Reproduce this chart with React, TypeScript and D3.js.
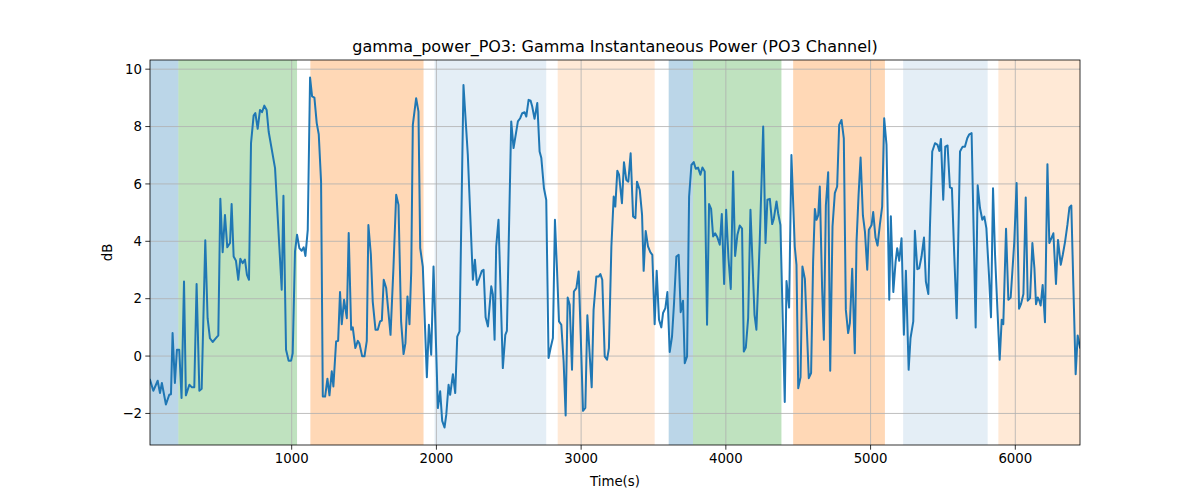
import React from "react";
import * as d3 from "d3";

// gamma power trace (time in s, power in dB)
const times = [
	21, 44, 74, 90, 103, 131, 154, 166, 177, 193, 207, 223, 239, 256, 269, 293, 311, 327, 343, 362, 378, 403, 419, 435, 454, 472, 493, 507, 523, 539, 555, 574, 585, 599, 615, 631, 645, 661, 677, 691, 705, 719, 737, 749, 765, 781, 795, 811, 827,
	841, 885, 931, 943, 961, 979, 996, 1007, 1023, 1037, 1053, 1069, 1083, 1095, 1111, 1127, 1141, 1157, 1173, 1187, 1203, 1215, 1231, 1247, 1261, 1277, 1288, 1307, 1321, 1334, 1346, 1362, 1381, 1394, 1411, 1422, 1440, 1457, 1468, 1487, 1503, 1519, 1530, 1547, 1560, 1579, 1595, 1611, 1623, 1636, 1653,
	1683, 1703, 1722, 1738, 1756, 1773, 1786, 1800, 1814, 1826, 1837, 1860, 1876, 1888, 1906, 1934, 1948, 1964, 1980, 1998, 2010, 2026, 2040, 2056, 2068, 2084, 2095, 2114, 2130, 2144, 2160, 2187, 2217, 2252, 2266, 2280, 2298, 2314, 2326, 2340, 2356, 2379, 2390, 2402, 2413, 2429, 2459,
	2476, 2487, 2517, 2533, 2563, 2579, 2593, 2609, 2621, 2637, 2651, 2662, 2678, 2697, 2713, 2725, 2743, 2759, 2775, 2789, 2805, 2819, 2833, 2847, 2863, 2879, 2893, 2907, 2921, 2937, 2950, 2967, 2983, 2997, 3013, 3029, 3043, 3059, 3073, 3086, 3105, 3121, 3133, 3146, 3163, 3179, 3192, 3209, 3225, 3236, 3250, 3262, 3282, 3296, 3312, 3326,
	3342, 3359, 3375, 3386, 3405, 3421, 3432, 3446, 3462, 3478, 3492, 3508, 3522, 3538, 3554, 3566, 3582, 3596, 3612, 3628, 3642, 3658, 3674, 3688, 3704, 3716, 3732, 3746, 3762, 3778, 3792, 3808, 3824, 3838, 3854, 3870, 3884, 3898, 3912, 3926, 3942, 3958, 3972, 3988, 4002, 4018, 4034, 4050, 4064, 4080, 4096, 4112,
	4124, 4138, 4154, 4170, 4198, 4211, 4234, 4258, 4274, 4287, 4304, 4320, 4331, 4350, 4361, 4377, 4407, 4419, 4437, 4453, 4476, 4488, 4500, 4516, 4529, 4546, 4573, 4589, 4603, 4615, 4626, 4638, 4649, 4665, 4677, 4691, 4707, 4721, 4737, 4753, 4769, 4783, 4799, 4815, 4829, 4845, 4857, 4873, 4891, 4903, 4917, 4931, 4947, 4961, 4977,
	4988, 5007, 5018, 5034, 5048, 5064, 5080, 5094, 5110, 5129, 5140, 5157, 5173, 5184, 5198, 5214, 5230, 5244, 5263, 5276, 5295, 5306, 5323, 5336, 5352, 5369, 5382, 5399, 5410, 5426, 5445, 5463, 5475, 5486, 5502, 5516, 5532, 5548, 5562, 5578, 5595, 5618, 5636, 5652, 5668, 5682, 5698,
	5726, 5740, 5756, 5772, 5786, 5800, 5818, 5832, 5846, 5860, 5876, 5892, 5906, 5917, 5936, 5952, 5968, 5993, 6009, 6026, 6039, 6056, 6072, 6086, 6102, 6118, 6132, 6143, 6155, 6166, 6175, 6189, 6205, 6222, 6235, 6251, 6263, 6281, 6295, 6314, 6328, 6344, 6360, 6374, 6387, 6401, 6417, 6431, 6447,
];

const power = [
	-0.83, -1.21, -0.86, -1.29, -0.94, -1.69, -1.35, -1.33, 0.8, -0.94, 0.22, 0.22, -1.46, 2.6, -1.37, -1.0, -1.09, -1.09, 2.51, -1.21, -1.14, 4.04, 1.32, 0.62, 0.49, 0.6, 0.72, 5.48, 3.62, 4.92, 3.79, 3.94, 5.3, 3.47, 3.32, 2.66, 3.39, 3.24, 3.36, 2.83, 2.66, 7.42, 8.38, 8.47, 7.92, 8.58, 8.5, 8.73, 8.58,
	7.82, 6.55, 2.31, 5.59, 0.22, -0.16, -0.16, 0.1, 3.65, 4.23, 3.76, 3.67, 3.79, 3.49, 4.4, 9.71, 9.05, 9.01, 8.12, 7.73, 6.08, -1.41, -1.41, -0.79, -1.37, -0.53, -1.06, 0.51, 0.53, 2.23, 1.11, 1.96, 1.32, 4.29, 0.92, 1.0, 0.28, 0.53, 0.44, -0.01, -0.01, 0.53, 4.57, 3.55, 1.9, 0.92, 0.92, 1.21, 1.24, 2.66, 2.37,
	0.74, 3.06, 5.62, 5.27, 1.21, 0.07, 0.45, 2.08, 1.11, 2.95, 8.06, 8.99, 8.52, 3.76, 3.12, -0.74, 1.09, 0.05, 3.12, 0.28, -1.81, -1.23, -2.26, -2.49, -2.05, -1.0, -1.35, -0.63, -1.29, 0.68, 0.86, 9.45, 7.01, 2.66, 3.36, 2.48, 2.74, 2.97, 3.01, 1.35, 1.03, 2.43, 2.16, 0.57, 3.82, 4.75, -0.42,
	0.74, 0.88, 8.18, 7.25, 8.18, 8.29, 8.47, 8.5, 8.35, 8.93, 8.9, 8.7, 8.27, 8.82, 7.13, 6.9, 5.85, 5.44, -0.07, 0.28, 0.63, 4.75, 3.06, 1.21, 1.09, -0.19, -2.07, 2.04, 1.79, -0.48, 2.25, 2.37, 2.95, 0.74, -1.91, -1.81, 1.42, 0.05, -1.09, 1.61, 2.77, 2.77, 2.86, 2.66, -0.01, -0.13, 0.28, 3.82, 5.56, 5.21, 6.46, 6.32, 5.33, 6.76, 6.14, 6.08,
	7.07, 4.87, 4.81, 6.08, 5.79, 4.92, 2.97, 4.36, 3.82, 3.62, 3.53, 1.11, 2.97, 1.27, 1.0, 1.5, 1.67, 2.23, 0.14, 0.68, 1.85, 3.47, 3.53, 1.53, 1.93, -0.25, -0.01, 5.56, 6.66, 6.76, 6.53, 6.57, 6.32, 6.57, 6.43, 1.09, 5.3, 5.13, 4.17, 4.28, 4.13, 3.88, 4.95, 2.51, 5.1, 3.41, 2.34, 6.43, 3.49, 4.23, 4.55, 4.44,
	0.16, 0.3, 1.32, 5.1, 1.44, 0.92, 3.99, 8.0, 3.94, 5.45, 5.48, 4.6, 4.78, 5.39, 4.98, 4.57, -1.6, 2.62, 1.69, 7.01, 3.82, 3.18, -1.12, -0.74, 3.12, 2.69, -0.77, -0.59, 3.3, 5.13, 4.75, 4.9, 5.91, 2.39, 0.57, 5.25, 6.41, -0.51, 4.52, 5.68, 5.91, 8.06, 8.23, 7.59, 1.61, 0.8, 1.15, 3.04, 0.1, 3.99, 5.62, 6.92, 4.9, 4.34, 3.01,
	4.4, 4.57, 5.02, 4.13, 3.85, 4.57, 5.21, 8.29, 7.36, 1.96, 4.87, 2.23, 3.3, 3.76, 3.32, 4.11, 0.74, 2.97, -0.48, 0.63, 1.21, 4.37, 3.03, 3.06, 3.47, 4.13, 2.6, 2.16, 4.46, 7.13, 7.42, 7.36, 7.15, 7.57, 5.45, 7.3, 7.34, 5.88, 5.85, 3.53, 1.32, 7.13, 7.3, 7.3, 7.59, 7.73, 7.77,
	1.0, 5.95, 5.16, 4.75, 4.86, 4.46, 2.83, 1.35, 5.85, 3.53, 1.67, -0.13, 1.27, 1.11, 4.44, 1.96, 2.04, 3.99, 6.03, 1.65, 1.81, 2.16, 5.53, 1.93, 2.02, 3.94, 3.06, 1.81, 2.04, 1.93, 1.76, 2.48, 1.18, 6.69, 3.94, 4.13, 4.28, 2.51, 4.05, 3.18, 3.53, 3.99, 4.57, 5.18, 5.25, 2.48, -0.63, 0.72, 0.3,
];

// shaded task periods
const spanStart = [0, 217, 1129, 1987, 2838, 3605, 3773, 4465, 5225, 5883];
const spanEnd = [217, 1037, 1911, 2759, 3508, 3773, 4384, 5099, 5809, 6500];
const spanColor = ["#1f77b4", "#2ca02c", "#ff7f0e", "#1f77b4", "#ff7f0e", "#1f77b4", "#2ca02c", "#ff7f0e", "#1f77b4", "#ff7f0e"];
const spanAlpha = [0.3, 0.3, 0.3, 0.12, 0.17, 0.3, 0.3, 0.3, 0.12, 0.17];

const xTicks = [1000, 2000, 3000, 4000, 5000, 6000];
const yTicks = [-2, 0, 2, 4, 6, 8, 10];

const title = "gamma_power_PO3: Gamma Instantaneous Power (PO3 Channel)";

export default function App() {
	const width = 1200;
	const height = 500;
	const margin = { top: 60, right: 120, bottom: 55, left: 150 };
	const innerW = width - margin.left - margin.right;
	const innerH = height - margin.top - margin.bottom;

	const x = d3.scaleLinear().domain([times[0], times[times.length - 1]]).range([0, innerW]);
	// matplotlib style 5% padding on y
	const [lo, hi] = d3.extent(power) as [number, number];
	const pad = (hi - lo) * 0.05;
	const y = d3.scaleLinear().domain([lo - pad, hi + pad]).range([innerH, 0]);

	const pts = times.map((t, i) => [t, power[i]] as [number, number]);
	const line = d3
		.line<[number, number]>()
		.x((d) => x(d[0]))
		.y((d) => y(d[1]));

	const font = "DejaVu Sans, sans-serif";

	return (
		<svg width={width} height={height} style={{ position: "absolute", left: 0, top: 0, background: "#fff" }} fontFamily={font}>
			<defs>
				<clipPath id="plot-area">
					<rect width={innerW} height={innerH} />
				</clipPath>
			</defs>
			<g transform={`translate(${margin.left},${margin.top})`}>
				<g clipPath="url(#plot-area)">
					{spanStart.map((s, i) => (
						<rect
							key={i}
							x={x(s)}
							y={0}
							width={x(spanEnd[i]) - x(s)}
							height={innerH}
							fill={spanColor[i]}
							fillOpacity={spanAlpha[i]}
						/>
					))}
					{xTicks.map((t) => (
						<line key={"gx" + t} x1={x(t)} x2={x(t)} y1={0} y2={innerH} stroke="#b0b0b0" strokeWidth={0.8} />
					))}
					{yTicks.map((t) => (
						<line key={"gy" + t} x1={0} x2={innerW} y1={y(t)} y2={y(t)} stroke="#b0b0b0" strokeWidth={0.8} />
					))}
					<path d={line(pts) ?? ""} fill="none" stroke="#1f77b4" strokeWidth={2} strokeLinejoin="round" strokeLinecap="square" />
				</g>
				<rect width={innerW} height={innerH} fill="none" stroke="#000" strokeWidth={0.8} />

				{/* x axis */}
				{xTicks.map((t) => (
					<g key={"tx" + t} transform={`translate(${x(t)},${innerH})`}>
						<line y2={4.7} stroke="#000" strokeWidth={0.8} />
						<text y={18} textAnchor="middle" fontSize={13.3} fill="#000">
							{t}
						</text>
					</g>
				))}
				{/* y axis */}
				{yTicks.map((t) => (
					<g key={"ty" + t} transform={`translate(0,${y(t)})`}>
						<line x2={-4.7} stroke="#000" strokeWidth={0.8} />
						<text x={-8} dy="0.35em" textAnchor="end" fontSize={13.3} fill="#000">
							{t < 0 ? "\u2212" + Math.abs(t) : t}
						</text>
					</g>
				))}

				<text x={innerW / 2} y={innerH + 41} textAnchor="middle" fontSize={13.3} fill="#000">
					Time(s)
				</text>
				<text transform={`translate(${-38},${innerH / 2}) rotate(-90)`} textAnchor="middle" fontSize={13.3} fill="#000">
					dB
				</text>
				<text x={innerW / 2} y={-8} textAnchor="middle" fontSize={16} fill="#000">
					{title}
				</text>
			</g>
		</svg>
	);
}
